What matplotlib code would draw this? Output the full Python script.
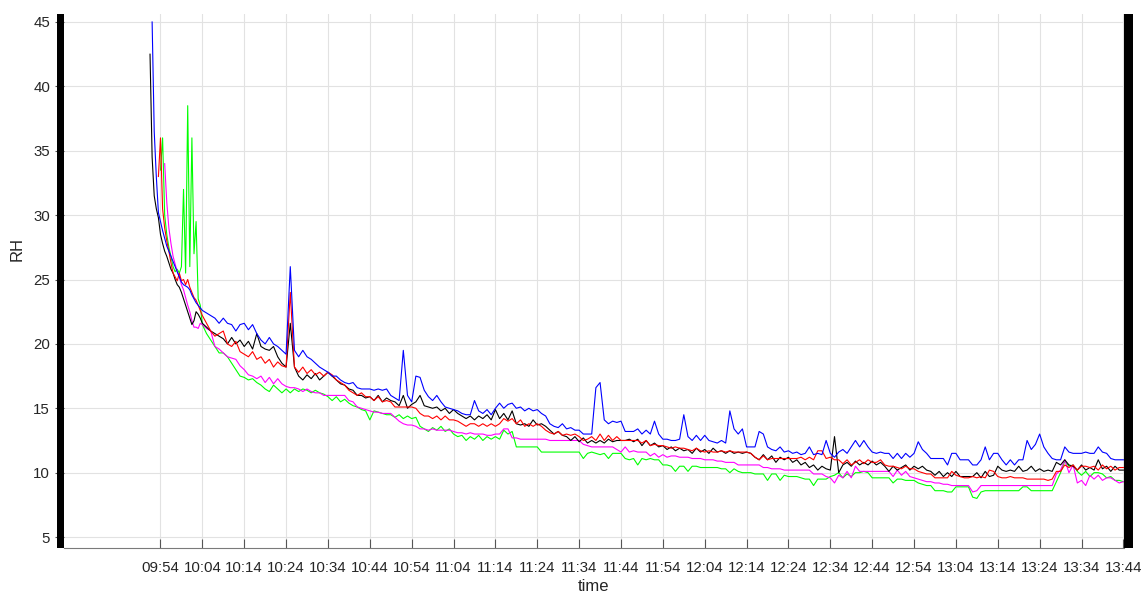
import numpy as np
import matplotlib
matplotlib.use('Agg')
import matplotlib.pyplot as plt
from matplotlib.patches import Rectangle

plt.rcParams['font.family'] = ['Liberation Sans', 'DejaVu Sans']

nan = np.nan

# time axis in minutes after 09:00 (half-minute samples first, then one per minute)
t_early = np.arange(51.5, 64.0, 0.5)
t_late = np.arange(64, 285, 1)
t = np.concatenate([t_early, t_late])

# RH readings, first 25 samples (09:51:30 - 10:03:30)
blue_early = [nan, 45.0, 36.5, 33.0, 30.2, 29.5, 28.8, 28.2, 27.6, 27.2, 26.8, 26.4, 26.0,
              25.6, 25.2, 24.8, 24.6, 24.5, 24.4, 24.2, 23.8, 23.5, 23.2, 23.0, 22.8]
black_early = [42.5, 34.5, 31.5, 30.5, 29.8, 28.5, 27.8, 27.2, 26.8, 26.3, 25.8, 25.5, 25.0,
               24.6, 24.4, 24.0, 23.5, 23.0, 22.5, 22.0, 21.5, 21.8, 22.5, 22.3, 22.0]
red_early = [nan, nan, nan, nan, 33.0, 36.0, 30.5, 29.0, 28.0, 27.2, 26.3, 25.5, 25.2,
             24.9, 25.5, 24.9, 25.0, 24.6, 25.0, 24.4, 24.0, 23.6, 23.4, 23.0, 22.6]
magenta_early = [nan, nan, nan, nan, nan, nan, nan, 34.0, 31.0, 29.0, 27.8, 26.8, 26.2,
                 25.6, 25.2, 24.6, 24.2, 23.6, 23.0, 22.5, 21.8, 21.3, 21.3, 21.2, 21.6]
green_early = [nan, nan, nan, nan, nan, 33.5, 36.0, 30.0, 28.5, 27.5, 26.8, 26.0, 25.6,
               25.8, 25.5, 26.0, 32.0, 25.5, 38.5, 26.0, 36.0, 27.0, 29.5, 23.5, 23.0]

# one value per minute, 10:04 - 13:44 (rows of ten minutes)
blue_late = [
    22.6, 22.4, 22.2, 22.0, 21.6, 22.0, 21.6, 21.5, 21.0, 21.5,  # 10:04
    21.6, 21.1, 21.5, 20.8, 20.3, 20.0, 20.5, 20.0, 19.8, 19.5,  # 10:14
    19.2, 26.0, 19.5, 19.0, 19.5, 19.0, 18.8, 18.5, 18.2, 18.0,  # 10:24
    17.8, 17.5, 17.5, 17.2, 17.0, 16.9, 17.0, 16.6, 16.5, 16.5,  # 10:34
    16.5, 16.4, 16.5, 16.4, 16.5, 16.0, 15.8, 15.6, 19.5, 16.0,  # 10:44
    15.5, 17.5, 17.4, 16.4, 15.9, 15.6, 16.0, 15.5, 15.1, 15.0,  # 10:54
    14.9, 14.8, 14.6, 14.5, 14.5, 15.6, 14.8, 14.6, 14.9, 14.5,  # 11:04
    15.0, 15.4, 15.0, 15.3, 15.4, 15.0, 15.1, 14.8, 15.0, 14.8,  # 11:14
    14.9, 14.6, 14.4, 13.8, 13.6, 13.5, 13.8, 13.4, 13.5, 13.3,  # 11:24
    13.3, 13.0, 13.0, 13.0, 16.6, 17.0, 14.1, 13.8, 14.0, 13.9,  # 11:34
    14.0, 13.2, 13.2, 13.2, 13.4, 13.0, 13.3, 13.0, 14.0, 13.0,  # 11:44
    12.6, 12.6, 12.5, 12.5, 12.6, 14.5, 12.8, 12.5, 12.9, 12.5,  # 11:54
    12.9, 12.5, 12.4, 12.3, 12.5, 12.3, 14.8, 13.4, 13.0, 13.4,  # 12:04
    12.0, 12.0, 12.0, 13.2, 13.0, 12.0, 11.8, 11.7, 12.0, 11.6,  # 12:14
    11.7, 11.5, 11.6, 11.4, 11.5, 12.0, 11.4, 11.5, 11.4, 12.5,  # 12:24
    11.5, 11.2, 11.6, 11.8, 11.5, 12.0, 12.5, 12.0, 12.5, 12.0,  # 12:34
    11.6, 11.5, 11.6, 11.5, 11.5, 11.1, 11.5, 11.1, 11.5, 11.2,  # 12:44
    11.5, 12.4, 11.8, 11.5, 11.1, 11.1, 11.1, 11.1, 10.6, 11.5,  # 12:54
    11.5, 11.0, 11.0, 11.0, 10.6, 10.6, 11.0, 12.0, 11.0, 11.5,  # 13:04
    11.5, 11.0, 10.6, 11.0, 10.6, 11.0, 11.0, 12.5, 11.8, 12.2,  # 13:14
    13.0, 12.0, 11.5, 11.1, 11.0, 11.0, 12.0, 11.6, 11.5, 11.5,  # 13:24
    11.5, 11.6, 11.5, 11.5, 12.0, 11.6, 11.5, 11.1, 11.0, 11.0,  # 13:34
    11.0]
black_late = [
    21.6, 21.3, 21.0, 20.8, 20.6, 20.4, 20.0, 20.5, 20.0, 20.3,
    19.8, 20.2, 19.6, 20.8, 19.8, 19.6, 19.5, 19.8, 19.0, 18.5,
    18.2, 21.6, 18.2, 17.5, 17.2, 17.6, 17.3, 17.7, 17.2, 17.5,
    17.8, 17.5, 17.2, 16.9, 16.8, 16.5, 16.4, 16.0, 16.0, 15.8,
    15.9, 15.6, 16.0, 15.5, 15.8, 15.6, 15.5, 15.2, 16.0, 15.0,
    15.3, 15.5, 16.0, 15.2, 15.1, 15.0, 15.1, 14.8, 15.0, 14.6,
    14.9, 14.6, 14.4, 14.2, 14.4, 14.1, 14.4, 14.2, 14.5, 14.1,
    14.9, 14.2, 14.6, 14.1, 14.8, 13.8, 13.7, 13.8, 13.6, 14.1,
    13.7, 13.8, 13.6, 13.3, 13.0, 13.2, 12.9, 12.8, 12.5, 12.8,
    12.4, 12.7, 12.3, 12.5, 12.3, 12.5, 12.3, 12.6, 12.4, 12.5,
    12.5, 12.5, 12.6, 12.4, 12.6, 12.1, 12.5, 12.1, 12.3, 12.0,
    12.1, 11.8, 12.0, 11.7, 11.9, 11.7, 11.8, 11.5, 11.9, 11.6,
    11.8, 11.5, 11.9, 11.6, 11.7, 11.5, 11.7, 11.5, 11.6, 11.5,
    11.6, 11.5, 11.2, 11.0, 11.4, 11.0, 11.3, 10.8, 11.2, 11.0,
    11.2, 10.8, 11.0, 10.6, 10.8, 10.4, 10.6, 10.2, 10.5, 10.3,
    10.2, 12.8, 10.0, 10.6, 10.8, 10.5, 10.9, 10.6, 10.8, 10.6,
    10.9, 10.6, 10.8, 10.5, 10.1, 10.5, 10.2, 10.4, 10.6, 10.2,
    10.5, 10.3, 10.5, 10.2, 10.1, 9.8, 10.1, 9.7, 10.0, 9.7,
    10.1, 9.7, 9.7, 9.7, 9.7, 10.0, 9.6, 10.1, 9.7, 9.8,
    10.5, 10.2, 10.1, 10.2, 10.1, 10.5, 10.1, 10.2, 10.5, 10.1,
    10.3, 10.1, 10.2, 10.1, 10.8, 10.6, 11.0, 10.6, 10.5, 10.2,
    10.6, 10.2, 10.4, 10.2, 11.0, 10.3, 10.5, 10.1, 10.5, 10.2,
    10.2]
red_late = [
    22.2, 21.6, 21.0, 20.6, 20.8, 21.0, 20.0, 19.8, 20.2, 19.4,
    19.2, 19.0, 19.4, 18.8, 19.0, 18.5, 18.8, 18.2, 18.6, 18.3,
    18.2, 24.0, 18.2, 17.8, 18.2, 17.7, 18.0, 17.6, 17.8, 17.5,
    17.8, 17.6, 17.2, 17.0, 16.8, 16.4, 16.2, 16.0, 16.2, 15.9,
    15.9, 15.6, 15.9, 15.5, 15.6, 15.5, 15.1, 15.1, 15.1, 15.1,
    15.1, 15.0, 14.6, 14.4, 14.4, 14.2, 14.4, 14.1, 14.4, 14.1,
    14.1, 14.0, 13.8, 13.6, 13.8, 13.8, 13.6, 13.8, 13.6, 13.8,
    13.6, 13.8, 14.2, 14.0, 14.2, 13.8, 14.1, 13.6, 13.8, 13.6,
    13.8, 13.6, 13.3, 13.1, 13.0, 13.2, 12.9, 13.0, 12.9, 13.0,
    12.8, 12.5, 12.6, 12.8, 12.5, 13.0, 12.5, 12.9, 12.5, 12.8,
    12.5, 12.5, 12.5, 12.5, 12.5, 12.3, 12.5, 12.1, 12.2, 12.1,
    12.1, 12.0, 11.9, 12.0, 11.9, 11.9, 11.8, 11.7, 11.9, 11.7,
    11.6, 11.7, 11.6, 11.6, 11.7, 11.6, 11.7, 11.6, 11.6, 11.6,
    11.6, 11.5, 11.2, 11.0, 11.3, 11.0, 11.1, 11.1, 11.1, 11.1,
    11.1, 11.1, 11.1, 11.2, 11.0, 11.2, 11.0, 11.7, 11.7, 11.1,
    11.2, 11.0, 11.0, 10.7, 11.0, 10.6, 10.8, 11.0, 10.7, 11.0,
    10.8, 10.8, 11.0, 10.6, 10.5, 10.5, 10.4, 10.3, 10.5, 10.3,
    10.3, 10.1, 10.0, 9.9, 9.9, 9.6, 9.6, 9.6, 9.6, 10.1,
    9.8, 9.7, 9.6, 9.6, 9.7, 9.6, 9.7, 9.6, 10.2, 10.1,
    9.7, 9.6, 9.6, 9.7, 9.6, 9.6, 9.6, 9.5, 9.5, 9.5,
    9.5, 9.5, 9.4, 9.5, 10.1, 10.1, 10.6, 10.4, 10.6, 10.2,
    10.5, 10.5, 10.4, 10.5, 10.2, 10.6, 10.3, 10.5, 10.2, 10.4,
    10.4]
magenta_late = [
    21.5, 21.2, 21.0, 19.8, 19.6, 19.3, 19.0, 18.9, 18.8, 18.3,
    18.0, 17.6, 17.5, 17.3, 17.5, 17.0, 17.4, 16.9, 17.3, 16.9,
    16.7, 16.6, 16.6, 16.5, 16.3, 16.5, 16.3, 16.2, 16.2, 16.0,
    16.0, 16.0, 16.0, 16.0, 16.0, 15.6, 15.5, 15.1, 15.0, 14.9,
    14.8, 14.7, 14.7, 14.6, 14.6, 14.6, 14.3, 14.0, 13.8, 13.7,
    13.7, 13.6, 13.4, 13.4, 13.3, 13.4, 13.3, 13.3, 13.3, 13.3,
    13.2, 13.1, 13.1, 13.0, 13.1, 13.0, 13.0, 13.0, 12.9, 12.9,
    13.0, 13.0, 13.4, 13.4, 12.7, 12.7, 12.6, 12.6, 12.6, 12.6,
    12.6, 12.6, 12.6, 12.5, 12.5, 12.5, 12.5, 12.5, 12.5, 12.5,
    12.5, 12.2, 12.1, 12.0, 12.0, 12.0, 12.0, 12.0, 12.0, 11.8,
    11.6, 12.0, 11.6, 11.7, 11.6, 11.6, 11.6, 11.3, 11.5, 11.2,
    11.4, 11.2, 11.3, 11.3, 11.2, 11.2, 11.2, 11.1, 11.1, 11.1,
    11.0, 11.0, 11.0, 10.9, 10.9, 10.8, 10.8, 10.8, 10.6, 10.6,
    10.6, 10.6, 10.6, 10.6, 10.4, 10.4, 10.3, 10.3, 10.3, 10.2,
    10.2, 10.2, 10.2, 10.2, 10.2, 10.2, 9.9, 9.9, 9.9, 9.7,
    9.6, 9.2, 9.8, 9.6, 10.1, 9.6, 10.5, 10.1, 10.1, 10.1,
    10.1, 10.1, 10.1, 10.1, 10.1, 9.7, 10.2, 9.8, 10.1, 9.7,
    9.6, 9.5, 9.4, 9.3, 9.3, 9.2, 9.2, 9.1, 9.1, 9.0,
    9.0, 9.0, 9.0, 9.0, 8.5, 8.6, 9.0, 9.0, 9.0, 9.0,
    9.0, 9.0, 9.0, 9.0, 9.0, 9.0, 9.0, 9.0, 9.0, 9.0,
    9.0, 9.0, 9.0, 9.0, 9.9, 10.2, 11.0, 10.0, 10.6, 9.2,
    9.4, 9.0, 9.8, 9.5, 9.8, 9.4, 9.6, 9.6, 9.4, 9.2,
    9.3]
green_late = [
    21.5, 20.8, 20.3, 19.8, 19.3, 19.3, 19.0, 18.5, 18.0, 17.5,
    17.4, 17.2, 17.3, 17.0, 16.8, 16.5, 16.3, 16.8, 16.5, 16.2,
    16.5, 16.2, 16.5, 16.3, 16.5, 16.4, 16.2, 16.4, 16.2, 16.1,
    15.9, 15.6, 15.9, 15.5, 15.7, 15.4, 15.2, 15.1, 14.9, 14.8,
    14.1, 14.8, 14.7, 14.6, 14.5, 14.5, 14.3, 14.5, 14.2, 14.4,
    14.2, 14.3, 13.6, 13.4, 13.2, 13.5, 13.3, 13.6, 13.2, 13.4,
    13.0, 12.8, 12.9, 12.5, 12.8, 12.6, 12.9, 12.5, 12.8, 12.6,
    12.8, 12.6, 13.3, 13.0, 13.2, 12.0, 12.0, 12.0, 12.0, 12.0,
    12.0, 11.6, 11.6, 11.6, 11.6, 11.6, 11.6, 11.6, 11.6, 11.6,
    11.6, 11.1, 11.5, 11.6, 11.5, 11.4, 11.5, 11.1, 11.5, 11.5,
    11.5, 11.1, 11.0, 11.1, 10.6, 11.1, 11.0, 11.1, 11.0, 11.0,
    10.6, 10.6, 10.5, 10.1, 10.5, 10.5, 10.1, 10.5, 10.5, 10.4,
    10.4, 10.4, 10.4, 10.4, 10.3, 10.3, 10.0, 10.3, 10.1, 10.0,
    10.0, 10.0, 9.9, 9.9, 9.9, 9.4, 9.9, 9.9, 9.4, 9.8,
    9.7, 9.7, 9.7, 9.6, 9.5, 9.5, 9.0, 9.5, 9.5, 9.5,
    9.7, 9.8, 10.0, 9.6, 9.9, 9.7, 10.0, 10.0, 10.1, 10.0,
    9.6, 9.6, 9.6, 9.6, 9.6, 9.2, 9.5, 9.5, 9.4, 9.4,
    9.4, 9.2, 9.1, 9.0, 9.0, 8.6, 8.6, 8.6, 8.5, 8.5,
    8.9, 8.9, 8.9, 8.9, 8.1, 8.0, 8.5, 8.6, 8.6, 8.6,
    8.6, 8.6, 8.6, 8.6, 8.6, 8.6, 8.9, 8.9, 8.6, 8.6,
    8.6, 8.6, 8.6, 8.6, 9.3, 10.0, 10.9, 10.5, 10.6, 10.1,
    9.8, 10.1, 9.7, 10.0, 10.0, 9.9, 9.6, 9.7, 9.4, 9.4,
    9.3]

series = [
    ('#00ff00', green_early + green_late),
    ('#ff00ff', magenta_early + magenta_late),
    ('#000000', black_early + black_late),
    ('#ff0000', red_early + red_late),
    ('#0000ff', blue_early + blue_late),
]

x_ticks = np.arange(54, 285, 10)
x_labels = ['%02d:%02d' % (9 + m // 60, m % 60) for m in x_ticks]
y_ticks = np.arange(5, 46, 5)

W, H = 1143, 595
fig = plt.figure(figsize=(W / 100, H / 100), dpi=100)
ax = fig.add_axes([64 / W, 47 / H, 1060 / W, 534 / H])

for color, vals in series:
    ax.plot(t, vals, color=color, lw=0.8)

ax.set_xlim(30.95, 284.15)
ax.set_ylim(4.15, 45.62)
ax.set_xticks(x_ticks)
ax.set_xticklabels(x_labels)
ax.set_yticks(y_ticks)

ax.grid(True, color='#e2e2e2', lw=0.8)
ax.set_axisbelow(True)
for side in ['top', 'left', 'right']:
    ax.spines[side].set_visible(False)
ax.spines['bottom'].set_color('#7a7a7a')
ax.spines['bottom'].set_linewidth(0.8)

ax.tick_params(axis='x', direction='in', length=6.5, width=0.8, color='#555555',
               labelcolor='#262626', labelsize=10.8, pad=9)
ax.tick_params(axis='y', direction='out', length=6.5, width=0.8, color='#555555',
               labelcolor='#262626', labelsize=10.8, pad=3.5)

ax.set_xlabel('time', fontsize=12, color='#262626')
ax.xaxis.set_label_coords(0.4995, -0.058)
ax.set_ylabel('RH', fontsize=12, color='#262626')
ax.yaxis.set_label_coords(-0.037, 0.56)

# thick black bars at both sides of the plot area
fig.add_artist(Rectangle((57 / W, 47 / H), 7 / W, 534 / H, transform=fig.transFigure,
                         facecolor='black', edgecolor='none'))
fig.add_artist(Rectangle((1124 / W, 47 / H), 9 / W, 534 / H, transform=fig.transFigure,
                         facecolor='black', edgecolor='none'))

fig.savefig('out.png', dpi=100)
